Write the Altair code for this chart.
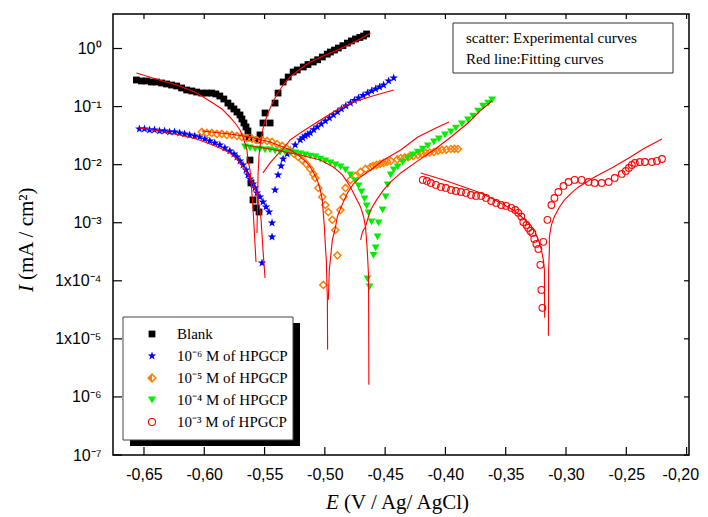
import altair as alt
import pandas as pd
import math

# ---------------- experimental data (E in V, I in mA/cm2) ----------------
blank_E = [-0.6563,-0.6521,-0.6479,-0.6438,-0.6396,-0.6354,-0.6313,-0.6271,-0.6229,-0.6188,-0.6146,-0.6104,-0.6063,-0.6021,-0.5979,-0.5938,-0.5904,-0.5871,-0.5838,-0.5804,-0.5779,-0.5754,-0.5729,-0.5704,-0.5688,-0.5671,-0.5654,-0.5638,-0.5629,-0.5621,-0.5613,-0.5596,-0.5571,-0.5546,
           -0.5554,-0.5538,-0.5513,-0.5454,-0.5496,-0.5413,-0.5388,-0.5346,-0.5304,-0.5263,-0.5229,-0.5179,-0.5140,-0.5096,-0.5060,-0.5021,-0.4980,-0.4954,-0.4920,-0.4888,-0.4850,-0.4813,-0.4780,-0.4746,-0.4710,-0.4679,-0.4654]
blank_I = [0.287,0.276,0.276,0.265,0.265,0.255,0.245,0.235,0.226,0.209,0.193,0.186,0.178,0.171,0.171,0.171,0.165,0.152,0.135,0.115,0.102,0.091,0.0807,0.0717,0.0612,0.0522,0.0446,0.038,0.0288,0.012,0.00484,0.00247,0.0018,0.00153,
           0.0266,0.0325,0.0522,0.0522,0.0776,0.115,0.171,0.265,0.323,0.394,0.427,0.481,0.53,0.586,0.64,0.714,0.80,0.870,0.94,1.02,1.12,1.24,1.35,1.46,1.55,1.64,1.78]

blue_E = [-0.6538,-0.6496,-0.6454,-0.6413,-0.6371,-0.6329,-0.6288,-0.6246,-0.6204,-0.6163,-0.6121,-0.6079,-0.6038,-0.5996,-0.5954,-0.5913,-0.5871,-0.5829,-0.5788,-0.5754,-0.5729,-0.5704,-0.5679,-0.5654,-0.5638,-0.5621,-0.5596,-0.5579,-0.5563,-0.5538,-0.5513,-0.5488,-0.5463,-0.5438,-0.5438,-0.5521,
          -0.5413,-0.5388,-0.5363,-0.5346,-0.5313,-0.5288,-0.5246,-0.5204,-0.5183,-0.5163,-0.5142,-0.5121,-0.5092,-0.5063,-0.5030,-0.4996,-0.4962,-0.4929,-0.4896,-0.4863,-0.4826,-0.4788,-0.4755,-0.4721,-0.4683,-0.4646,-0.4612,-0.4579,-0.4546,-0.4513,-0.4471,-0.4429]
blue_I = [0.0412,0.0412,0.0396,0.0396,0.038,0.038,0.0366,0.0366,0.0352,0.0338,0.0325,0.0312,0.03,0.0277,0.0256,0.0236,0.0218,0.0194,0.0172,0.0153,0.0136,0.0116,0.00989,0.00811,0.00665,0.00568,0.00466,0.00397,0.00326,0.00278,0.00228,0.00187,0.00153,0.000993,0.00057,0.000203,
          0.00367,0.00665,0.0095,0.0125,0.0153,0.0179,0.0218,0.0266,0.029,0.0312,0.033,0.0352,0.040,0.0446,0.050,0.0565,0.064,0.0717,0.081,0.091,0.103,0.115,0.128,0.141,0.156,0.171,0.186,0.201,0.218,0.235,0.276,0.311]

orange_E = [-0.6021,-0.5979,-0.5938,-0.5896,-0.5854,-0.5813,-0.5771,-0.5729,-0.5688,-0.5646,-0.5604,-0.5563,-0.5521,-0.5479,-0.5438,-0.5396,-0.5354,-0.5321,-0.5288,-0.5254,-0.5221,-0.5188,-0.5154,-0.5121,-0.5096,-0.5079,-0.5054,-0.5021,-0.4996,-0.4971,-0.4938,-0.4913,-0.4896,-0.5013,
            -0.4871,-0.4846,-0.4829,-0.4788,-0.4746,-0.4704,-0.4663,-0.4621,-0.4600,-0.4571,-0.4542,-0.4513,-0.4484,-0.4454,-0.4400,-0.4371,-0.4337,-0.4304,-0.4267,-0.4229,-0.4196,-0.4163,-0.4130,-0.4096,-0.4062,-0.4029,-0.3992,-0.3954,-0.3925,-0.3896]
orange_I = [0.0366,0.0352,0.0352,0.0338,0.0338,0.0325,0.0325,0.0312,0.03,0.0288,0.0277,0.0266,0.0266,0.0256,0.0246,0.0227,0.021,0.0194,0.0172,0.0153,0.0136,0.012,0.0103,0.00844,0.00692,0.0059,0.00397,0.00278,0.00202,0.00153,0.00112,0.00075,0.000274,0.0000849,
            0.00166,0.00278,0.00397,0.00546,0.0064,0.00749,0.00844,0.00912,0.0095,0.00989,0.0103,0.0107,0.0112,0.0116,0.0123,0.013,0.0133,0.0136,0.0141,0.0147,0.0153,0.0159,0.0162,0.0165,0.0172,0.0179,0.0182,0.0186,0.0187,0.0186]

green_E = [-0.5663,-0.5621,-0.5579,-0.5538,-0.5496,-0.5454,-0.5413,-0.5371,-0.5329,-0.5288,-0.5246,-0.5204,-0.5163,-0.5121,-0.5079,-0.5038,-0.4996,-0.4954,-0.4913,-0.4871,-0.4829,-0.4788,-0.4746,-0.4721,-0.4696,-0.4671,-0.4654,-0.4638,-0.4613,-0.4596,-0.4646,-0.4629,
           -0.4579,-0.4563,-0.4554,-0.4521,-0.4496,-0.4479,-0.4454,-0.4429,-0.4396,-0.4354,-0.4313,-0.4271,-0.4229,-0.4188,-0.4146,-0.4096,-0.4054,-0.4004,-0.3954,-0.3913,-0.3863,-0.3813,-0.3771,-0.3729,-0.3688,-0.3646,-0.3613]
green_I = [0.0202,0.0194,0.0186,0.0186,0.0179,0.0179,0.0172,0.0165,0.0165,0.0159,0.0159,0.0153,0.0147,0.0141,0.0136,0.0125,0.0116,0.0107,0.00989,0.00912,0.00811,0.00665,0.00524,0.0043,0.00339,0.00257,0.00195,0.00148,0.00103,0.000274,0.000108,0.0000785,
           0.000368,0.00057,0.000993,0.00166,0.00278,0.00448,0.00665,0.00811,0.00912,0.0111,0.013,0.0147,0.0165,0.0186,0.021,0.0246,0.0277,0.0325,0.0366,0.0428,0.0502,0.0588,0.0689,0.084,0.102,0.115,0.130]

red_E = [-0.4188,-0.4154,-0.4121,-0.4079,-0.4038,-0.3996,-0.3954,-0.3913,-0.3871,-0.3829,-0.3788,-0.3746,-0.3704,-0.3663,-0.3621,-0.3579,-0.3538,-0.3496,-0.3454,-0.3421,-0.3396,-0.3371,-0.3354,-0.3329,-0.3313,-0.3296,-0.3279,-0.3263,-0.3246,-0.3229,-0.3213,-0.3204,-0.3196,
         -0.3188,-0.3154,-0.3121,-0.3096,-0.3063,-0.3021,-0.2979,-0.2929,-0.2871,-0.2813,-0.2763,-0.2704,-0.2646,-0.2596,-0.2538,-0.2504,-0.2479,-0.2454,-0.2429,-0.2388,-0.2346,-0.2288,-0.2246,-0.2204]
red_I = [0.00546,0.00524,0.00484,0.00448,0.00413,0.00397,0.00367,0.00352,0.00339,0.00326,0.00301,0.00289,0.00289,0.00267,0.00237,0.00219,0.00202,0.00195,0.0018,0.00166,0.00148,0.00128,0.00103,0.000916,0.000814,0.000723,0.000668,0.000526,0.000432,0.000354,0.000188,0.0000697,0.0000342,
         0.000468,0.00112,0.00202,0.00267,0.00339,0.0043,0.00504,0.00546,0.00546,0.00504,0.00484,0.00484,0.00504,0.0059,0.00692,0.00779,0.00878,0.00989,0.0107,0.0111,0.0111,0.0111,0.0116,0.0125]

# ---------------- fitting curves (two branches per series) ----------------
fit_blank_c_E = [-0.6563,-0.6454,-0.6346,-0.6204,-0.6063,-0.5929,-0.5854,-0.5788,-0.5738,-0.5704,-0.5679,-0.5663,-0.5646,-0.5638,-0.5621,-0.5613,-0.5604,-0.5596,-0.5588,-0.5579,-0.5571]
fit_blank_c_I = [0.379,0.323,0.276,0.226,0.171,0.115,0.091,0.0662,0.0502,0.0396,0.03,0.0236,0.0179,0.012,0.00811,0.00546,0.00301,0.00187,0.000916,0.000415,0.000211]
fit_blank_a_E = [-0.5563,-0.5558,-0.5554,-0.5546,-0.5529,-0.5504,-0.5471,-0.5438,-0.5396,-0.5346,-0.5288,-0.5204,-0.5121,-0.5013,-0.4896,-0.4788,-0.4679,-0.4621]
fit_blank_a_I = [0.000668,0.00247,0.00665,0.0147,0.0288,0.0502,0.0776,0.111,0.165,0.235,0.323,0.444,0.586,0.743,0.942,1.195,1.58,1.85]

fit_blue_c_E = [-0.6538,-0.6371,-0.6204,-0.6063,-0.5929,-0.5854,-0.5788,-0.5729,-0.5679,-0.5638,-0.5596,-0.5571,-0.5554,-0.5538,-0.5529,-0.5521,-0.5513,-0.5504,-0.5496]
fit_blue_c_I = [0.0428,0.038,0.0325,0.0277,0.0218,0.0186,0.0159,0.0125,0.00912,0.00665,0.00484,0.00339,0.00247,0.00166,0.00112,0.000617,0.00034,0.000188,0.000112]
fit_blue_a_E = [-0.5513,-0.5454,-0.5396,-0.5346,-0.5288,-0.5204,-0.5063,-0.4929,-0.4788,-0.4604,-0.4429]
fit_blue_a_I = [0.0072,0.0107,0.0147,0.0186,0.0266,0.0352,0.0543,0.0807,0.115,0.152,0.193]

fit_orange_c_E = [-0.6021,-0.5788,-0.5621,-0.5454,-0.5346,-0.5271,-0.5204,-0.5154,-0.5121,-0.5088,-0.5063,-0.5038,-0.5021,-0.5013,-0.5004,-0.4996,-0.4988,-0.4979,-0.4978,-0.4977]
fit_orange_c_I = [0.038,0.0338,0.03,0.0246,0.0202,0.0172,0.0136,0.0111,0.00912,0.00692,0.00546,0.00367,0.00247,0.00148,0.000848,0.000415,0.000229,0.000047,0.0000143,0.00000647]
fit_orange_a_E = [-0.4971,-0.4963,-0.4946,-0.4938,-0.4913,-0.4896,-0.4854,-0.4813,-0.4763,-0.4704,-0.4621,-0.4513,-0.4371,-0.4229,-0.4096,-0.3971]
fit_orange_a_I = [0.000047,0.000154,0.00034,0.000506,0.000814,0.00128,0.00211,0.00326,0.00466,0.00614,0.00811,0.012,0.0179,0.03,0.0412,0.0543]

fit_green_c_E = [-0.5663,-0.5454,-0.5204,-0.5038,-0.4929,-0.4854,-0.4788,-0.4746,-0.4704,-0.4679,-0.4663,-0.4654,-0.4646,-0.4638,-0.4637,-0.4636,-0.4635]
fit_green_c_I = [0.0218,0.0186,0.0147,0.012,0.00912,0.00665,0.00413,0.00278,0.00187,0.00128,0.000848,0.000506,0.000274,0.000124,0.000047,0.00000962,0.00000162]
fit_green_a_E = [-0.4704,-0.4688,-0.4663,-0.4638,-0.4621,-0.4571,-0.4513,-0.4454,-0.4371,-0.4229,-0.4096,-0.3954,-0.3813,-0.3704,-0.3613]
fit_green_a_I = [0.000506,0.000695,0.000848,0.00128,0.00166,0.00247,0.00367,0.00504,0.0072,0.0116,0.0179,0.03,0.0522,0.0874,0.125]

fit_red_c_E = [-0.4204,-0.4013,-0.3871,-0.3729,-0.3621,-0.3513,-0.3438,-0.3371,-0.3313,-0.3263,-0.3229,-0.3204,-0.3188,-0.3179,-0.3178,-0.3177]
fit_red_c_I = [0.0072,0.00546,0.0043,0.00339,0.00267,0.00202,0.00166,0.00128,0.000993,0.00075,0.000506,0.00034,0.000229,0.000154,0.0000528,0.000023]
fit_red_a_E = [-0.3146,-0.3145,-0.3144,-0.3138,-0.3138,-0.3121,-0.3096,-0.3054,-0.3013,-0.2954,-0.2896,-0.2829,-0.2763,-0.2621,-0.2479,-0.2346,-0.2204]
fit_red_a_I = [0.0000113,0.000047,0.000154,0.00034,0.00057,0.000916,0.00128,0.00187,0.00247,0.00326,0.00413,0.00504,0.00614,0.00878,0.013,0.0194,0.0277]

# ---------------- axes ticks / labels ----------------
x_ticks = [-0.65, -0.60, -0.55, -0.50, -0.45, -0.40, -0.35, -0.30, -0.25, -0.20]
y_ticks = [1e-7, 1e-6, 1e-5, 1e-4, 1e-3, 1e-2, 1e-1, 1.0]
y_tick_labels = ["10⁻⁷", "10⁻⁶", "1x10⁻⁵", "1x10⁻⁴", "10⁻³", "10⁻²", "10⁻¹", "10⁰"]

legend_labels = ["Blank", "10⁻⁶ M of HPGCP", "10⁻⁵ M of HPGCP", "10⁻⁴ M of HPGCP", "10⁻³ M of HPGCP"]
note_lines = ["scatter: Experimental curves", "Red line:Fitting curves"]

# ---------------- build tables ----------------
def table(E, I, **extra):
    assert len(E) == len(I), (len(E), len(I))
    d = pd.DataFrame({"E": E, "I": I})
    for k, v in extra.items():
        d[k] = v
    return d

df_blank = table(blank_E, blank_I)
df_blue = table(blue_E, blue_I)
df_orange = table(orange_E, orange_I)
df_green = table(green_E, green_I)
df_red = table(red_E, red_I)

fits = []
for name, E, I in [
    ("blank_c", fit_blank_c_E, fit_blank_c_I), ("blank_a", fit_blank_a_E, fit_blank_a_I),
    ("blue_c", fit_blue_c_E, fit_blue_c_I), ("blue_a", fit_blue_a_E, fit_blue_a_I),
    ("orange_c", fit_orange_c_E, fit_orange_c_I), ("orange_a", fit_orange_a_E, fit_orange_a_I),
    ("green_c", fit_green_c_E, fit_green_c_I), ("green_a", fit_green_a_E, fit_green_a_I),
    ("red_c", fit_red_c_E, fit_red_c_I), ("red_a", fit_red_a_E, fit_red_a_I),
]:
    t = table(E, I, branch=name)
    t["k"] = range(len(t))
    fits.append(t)
df_fit = pd.concat(fits, ignore_index=True)

df_xt = pd.DataFrame({"E": x_ticks})
df_yt = pd.DataFrame({"I": y_ticks})

# ---------------- scales & axes ----------------
W, H = 576, 441
SANS = "Liberation Sans"
SERIF = "Liberation Serif"

xs = alt.Scale(domain=[-0.6757, -0.198], nice=False, zero=False)
ys = alt.Scale(type="log", domain=[1e-7, 3.93], nice=False)

xlabel_expr = "'-' + replace(format(-datum.value, '.2f'), '.', ',')"
e_expr = "round(log(datum.value)/LN10)"
ylabel_expr = ""
for v, lab in zip(y_ticks, y_tick_labels):
    e = round(math.log10(v))
    ylabel_expr += f"{e_expr} == {e} ? '{lab}' : "
ylabel_expr += "''"

xaxis = alt.Axis(values=x_ticks, labelExpr=xlabel_expr, ticks=False, tickSize=0, grid=False,
                 domain=False, labelFont=SANS, labelFontSize=16, labelColor="black",
                 labelPadding=11, title=None, labelFlush=5, labelFlushOffset=12, labelOverlap=False)
yaxis = alt.Axis(values=y_ticks, labelExpr=ylabel_expr, ticks=False, tickSize=0, grid=False,
                 domain=False, labelFont=SANS, labelFontSize=16, labelColor="black",
                 labelPadding=12, title=None, labelFlush=False, labelOverlap=False)

def X():
    return alt.X("E:Q", scale=xs, axis=xaxis)

def Y():
    return alt.Y("I:Q", scale=ys, axis=yaxis)

# ---------------- layers ----------------
tick_b = alt.Chart(df_xt).mark_rule(color="black", strokeWidth=1.2).encode(x=X(), y=alt.value(H), y2=alt.value(H - 8))
tick_t = alt.Chart(df_xt).mark_rule(color="black", strokeWidth=1.2).encode(x=X(), y=alt.value(0), y2=alt.value(5))
tick_l = alt.Chart(df_yt).mark_rule(color="black", strokeWidth=1.2).encode(y=Y(), x=alt.value(0), x2=alt.value(9))
tick_r = alt.Chart(df_yt).mark_rule(color="black", strokeWidth=1.2).encode(y=Y(), x=alt.value(W), x2=alt.value(W - 5))

STAR = "M0,-1L0.235,-0.324L0.951,-0.309L0.380,0.124L0.588,0.809L0,0.4L-0.588,0.809L-0.380,0.124L-0.951,-0.309L-0.235,-0.324Z"
HALF_DIAMOND = "M0,-1L-1,0L0,1Z"

BLACK, BLUE, ORANGE, GREEN, RED = "#000000", "#0000ff", "#ff7f00", "#00ee00", "#ff0000"

sc_blank = alt.Chart(df_blank).mark_point(shape="square", filled=True, size=46, color=BLACK, opacity=1).encode(x=X(), y=Y())
sc_blue = alt.Chart(df_blue).mark_point(shape=STAR, filled=True, size=80, color=BLUE, opacity=1).encode(x=X(), y=Y())
sc_orange = alt.Chart(df_orange).mark_point(shape="diamond", filled=False, size=50, color=ORANGE, strokeWidth=1.5, opacity=1).encode(x=X(), y=Y())
sc_green = alt.Chart(df_green).mark_point(shape="triangle-down", filled=True, size=60, color=GREEN, opacity=1).encode(x=X(), y=Y())
sc_red = alt.Chart(df_red).mark_point(shape="circle", filled=False, size=45, color=RED, strokeWidth=1.1, opacity=1).encode(x=X(), y=Y())

fit = alt.Chart(df_fit).mark_line(color=RED, strokeWidth=1.1).encode(
    x=X(), y=Y(), detail="branch:N", order="k:Q")

one = pd.DataFrame({"d": [0]})

# legend box (drawn)
leg_shadow = alt.Chart(one).mark_rect(color="black").encode(
    x=alt.value(17), x2=alt.value(187), y=alt.value(309), y2=alt.value(432))
leg_box = alt.Chart(one).mark_rect(fill="white", stroke="#444444", strokeWidth=1).encode(
    x=alt.value(10), x2=alt.value(180), y=alt.value(303), y2=alt.value(426))
row_y = [320, 342, 364, 386, 408]
leg_syms = [
    alt.Chart(one).mark_point(shape="square", filled=True, size=46, color=BLACK, opacity=1).encode(x=alt.value(39), y=alt.value(row_y[0])),
    alt.Chart(one).mark_point(shape=STAR, filled=True, size=80, color=BLUE, opacity=1).encode(x=alt.value(39), y=alt.value(row_y[1])),
    alt.Chart(one).mark_point(shape=HALF_DIAMOND, filled=True, size=60, color=ORANGE, opacity=1).encode(x=alt.value(39), y=alt.value(row_y[2])),
    alt.Chart(one).mark_point(shape="diamond", filled=False, size=60, color=ORANGE, strokeWidth=1.5, opacity=1).encode(x=alt.value(39), y=alt.value(row_y[2])),
    alt.Chart(one).mark_point(shape="triangle-down", filled=True, size=65, color=GREEN, opacity=1).encode(x=alt.value(39), y=alt.value(row_y[3])),
    alt.Chart(one).mark_point(shape="circle", filled=False, size=50, color=RED, strokeWidth=1.1, opacity=1).encode(x=alt.value(39), y=alt.value(row_y[4])),
]
leg_texts = [
    alt.Chart(one).mark_text(align="left", baseline="middle", font=SERIF, fontSize=15, color="black").encode(
        x=alt.value(64), y=alt.value(yy), text=alt.value(lab))
    for yy, lab in zip(row_y, legend_labels)
]

# note box
note_box = alt.Chart(one).mark_rect(fill="white", stroke="#333333", strokeWidth=1).encode(
    x=alt.value(340), x2=alt.value(560), y=alt.value(9), y2=alt.value(59))
note_texts = [
    alt.Chart(one).mark_text(align="left", baseline="middle", font=SERIF, fontSize=15, color="black").encode(
        x=alt.value(353), y=alt.value(yy), text=alt.value(t))
    for yy, t in zip([24, 45], note_lines)
]

# axis titles
xt1 = alt.Chart(one).mark_text(align="left", baseline="middle", font=SERIF, fontSize=21, fontStyle="italic", color="black").encode(
    x=alt.value(213), y=alt.value(489), text=alt.value("E"))
xt2 = alt.Chart(one).mark_text(align="left", baseline="middle", font=SERIF, fontSize=21, color="black").encode(
    x=alt.value(231), y=alt.value(489), text=alt.value("(V / Ag/ AgCl)"))
yt1 = alt.Chart(one).mark_text(align="left", baseline="middle", font=SERIF, fontSize=21, fontStyle="italic", angle=270, color="black").encode(
    x=alt.value(-86), y=alt.value(278), text=alt.value("I"))
yt2 = alt.Chart(one).mark_text(align="left", baseline="middle", font=SERIF, fontSize=21, angle=270, color="black").encode(
    x=alt.value(-86), y=alt.value(266), text=alt.value("(mA / cm²)"))

chart = alt.layer(
    tick_b, tick_t, tick_l, tick_r,
    sc_blank, sc_blue, sc_orange, sc_green, sc_red,
    fit,
    leg_shadow, leg_box, *leg_syms, *leg_texts,
    note_box, *note_texts,
    xt1, xt2, yt1, yt2,
).properties(
    width=W, height=H,
    autosize=alt.AutoSizeParams(type="none"),
    padding={"left": 105, "top": 6, "right": 11, "bottom": 62},
    background="white",
).configure_view(stroke="black", strokeWidth=1.5)

chart.save("out.html", embed_options={"renderer": "svg", "actions": False})
